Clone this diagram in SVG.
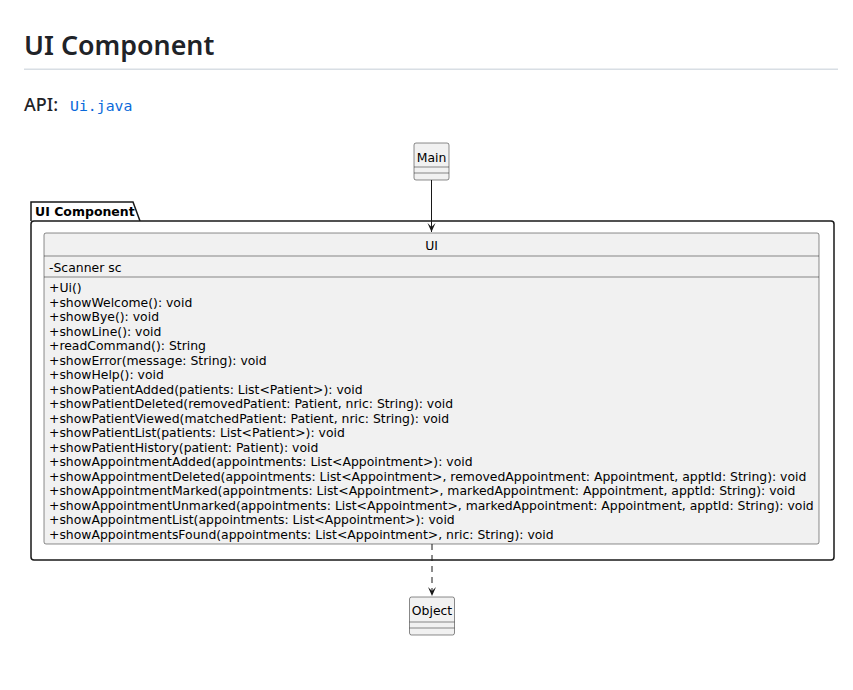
<svg xmlns="http://www.w3.org/2000/svg" width="853" height="690" viewBox="0 0 853 690">
<defs>
<style>
.h1{font-family:"Noto Sans","Open Sans","Liberation Sans",sans-serif;font-size:26.8px;font-weight:600;fill:#1f2328}
.api{font-family:"Noto Sans","Open Sans","Liberation Sans",sans-serif;font-size:18px;font-weight:500;fill:#1f2328}
.code{font-family:"DejaVu Sans Mono","Liberation Mono",monospace;font-size:14.8px;fill:#0969da}
.t{font-family:"DejaVu Sans","Liberation Sans",sans-serif;font-size:12.42px;fill:#000}
.pk{font-family:"DejaVu Sans","Liberation Sans",sans-serif;font-size:12.5px;font-weight:bold;fill:#000}
.cls{fill:#f1f1f1;stroke:#181818;stroke-width:0.5}
.sep{stroke:#181818;stroke-width:0.5}
.edge{stroke:#181818;stroke-width:1;fill:none}
</style>
<marker id="arr" markerWidth="10" markerHeight="10" viewBox="0 0 10 10" refX="9" refY="5" orient="auto" markerUnits="userSpaceOnUse">
<path d="M0,1 L9,5 L0,9 L4,5 Z" fill="#181818"/>
</marker>
</defs>
<rect width="853" height="690" fill="#ffffff"/>
<text class="h1" x="24" y="55">UI Component</text>
<rect x="24" y="68.5" width="814" height="1.5" fill="#d8dee4"/>
<text class="api" x="24" y="111">API:</text>
<text class="code" x="70" y="111">Ui.java</text>

<g id="package-ui-component">
<path d="M31,221 L31,202 L133,202 L140,221" fill="#ffffff" stroke="#181818" stroke-width="1.5"/>
<rect x="31" y="221" width="803" height="339" rx="3" fill="#ffffff" stroke="#181818" stroke-width="1.5"/>
<text class="pk" x="35" y="216">UI Component</text>
</g>

<g id="node-main">
<rect class="cls" x="414" y="143" width="35" height="37" rx="2"/>
<line class="sep" x1="414" y1="167" x2="449" y2="167"/>
<line class="sep" x1="414" y1="173" x2="449" y2="173"/>
<text class="t" x="431.5" y="162" text-anchor="middle">Main</text>
</g>

<g id="node-ui">
<rect class="cls" x="44" y="233" width="775" height="311" rx="2"/>
<line class="sep" x1="44" y1="256" x2="819" y2="256"/>
<line class="sep" x1="44" y1="277" x2="819" y2="277"/>
<text class="t" x="431.5" y="250" text-anchor="middle">UI</text>
<text class="t" x="49" y="272">-Scanner sc</text>
<text class="t" x="49" y="292">+Ui()</text>
<text class="t" x="49" y="306.5">+showWelcome(): void</text>
<text class="t" x="49" y="321">+showBye(): void</text>
<text class="t" x="49" y="335.5">+showLine(): void</text>
<text class="t" x="49" y="350">+readCommand(): String</text>
<text class="t" x="49" y="364.5">+showError(message: String): void</text>
<text class="t" x="49" y="379">+showHelp(): void</text>
<text class="t" x="49" y="393.5">+showPatientAdded(patients: List&lt;Patient&gt;): void</text>
<text class="t" x="49" y="408">+showPatientDeleted(removedPatient: Patient, nric: String): void</text>
<text class="t" x="49" y="422.5">+showPatientViewed(matchedPatient: Patient, nric: String): void</text>
<text class="t" x="49" y="437">+showPatientList(patients: List&lt;Patient&gt;): void</text>
<text class="t" x="49" y="451.5">+showPatientHistory(patient: Patient): void</text>
<text class="t" x="49" y="466">+showAppointmentAdded(appointments: List&lt;Appointment&gt;): void</text>
<text class="t" x="49" y="480.5">+showAppointmentDeleted(appointments: List&lt;Appointment&gt;, removedAppointment: Appointment, apptId: String): void</text>
<text class="t" x="49" y="495">+showAppointmentMarked(appointments: List&lt;Appointment&gt;, markedAppointment: Appointment, apptId: String): void</text>
<text class="t" x="49" y="509.5">+showAppointmentUnmarked(appointments: List&lt;Appointment&gt;, markedAppointment: Appointment, apptId: String): void</text>
<text class="t" x="49" y="524">+showAppointmentList(appointments: List&lt;Appointment&gt;): void</text>
<text class="t" x="49" y="538.5">+showAppointmentsFound(appointments: List&lt;Appointment&gt;, nric: String): void</text>
</g>

<g id="node-object">
<rect class="cls" x="409.5" y="597" width="45" height="38" rx="2"/>
<line class="sep" x1="409.5" y1="622" x2="454.5" y2="622"/>
<line class="sep" x1="409.5" y1="628" x2="454.5" y2="628"/>
<text class="t" x="432" y="615" text-anchor="middle">Object</text>
</g>

<g id="connectors">
<line class="edge" x1="431.5" y1="180" x2="431.5" y2="232" marker-end="url(#arr)"/>
<line class="edge" x1="432" y1="544" x2="432" y2="596" stroke-dasharray="6,5" marker-end="url(#arr)"/>
</g>
</svg>
